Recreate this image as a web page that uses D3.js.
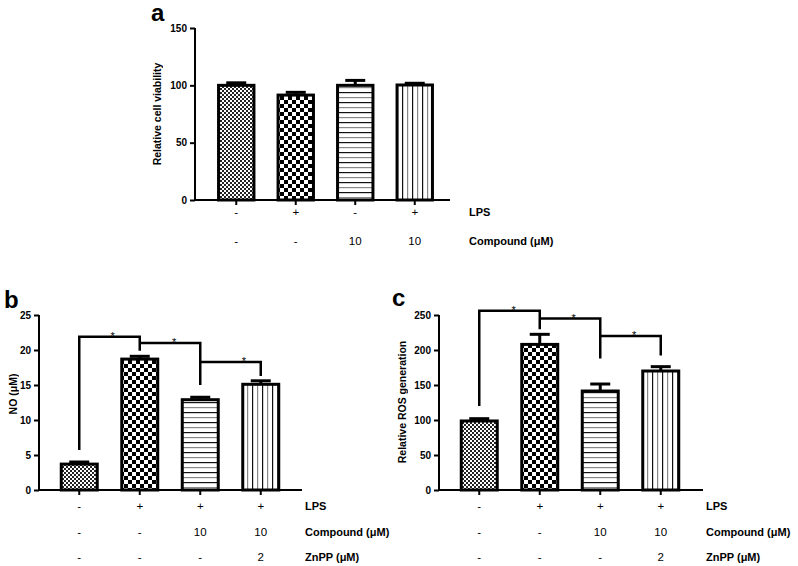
<!DOCTYPE html>
<html>
<head>
<meta charset="utf-8">
<script src="https://cdn.jsdelivr.net/npm/d3@7/dist/d3.min.js"></script>
<style>
  html, body { margin: 0; padding: 0; background: #fff; }
  svg { display: block; }
  text { font-family: "Liberation Sans", Arial, Helvetica, sans-serif; fill: #000; }
  .txt { opacity: 0.999; }
</style>
</head>
<body>
<svg id="chart" width="798" height="566"></svg>
<script>
// ---------------- DATA ----------------
const groups = ["G1", "G2", "G3", "G4"];

// Panel a: relative cell viability
const viabilityMeans = [100, 91.5, 100, 100.3];
const viabilityErr   = [2.2, 2.4, 4.3, 1.5];
const viabilityTicks = [0, 50, 100, 150];
const aRowNames  = ["LPS", "Compound (\u03bcM)"];
const aRowValues = [["-", "+", "-", "+"], ["-", "-", "10", "10"]];

// Panel b: NO
const noMeans = [3.7, 18.7, 12.9, 15.1];
const noErr   = [0.3, 0.4, 0.35, 0.5];
const noTicks = [0, 5, 10, 15, 20, 25];
// brackets: [fromGroup, toGroup, leftLegBottom, top, rightLegBottom, starFraction]
const noBrackets = [
  [0, 1, 5.7, 21.9, 19.9, 0.55],
  [1, 2, 21.0, 21.0, 15.0, 0.57],
  [2, 3, 18.3, 18.3, 16.3, 0.72]
];

// Panel c: ROS
const rosMeans = [98.6, 208, 141.4, 170];
const rosErr   = [3.3, 14.4, 10, 6.2];
const rosTicks = [0, 50, 100, 150, 200, 250];
const rosBrackets = [
  [0, 1, 120, 256, 229.5, 0.57],
  [1, 2, 245, 245, 188, 0.56],
  [2, 3, 220, 220, 192, 0.56]
];

const bcRowNames  = ["LPS", "Compound (\u03bcM)", "ZnPP (\u03bcM)"];
const bcRowValues = [["-", "+", "+", "+"], ["-", "-", "10", "10"], ["-", "-", "-", "2"]];

// ---------------- DRAW ----------------
const svg = d3.select("#chart");
const defs = svg.append("defs");

function pat(id, w, h, draw) {
  const p = defs.append("pattern").attr("id", id)
    .attr("patternUnits", "userSpaceOnUse").attr("width", w).attr("height", h);
  p.append("rect").attr("width", w).attr("height", h).attr("fill", "#fff");
  draw(p);
}
pat("p0", 4, 4, p => {
  p.append("rect").attr("x", 0).attr("y", 0).attr("width", 2).attr("height", 2).attr("fill", "#222");
  p.append("rect").attr("x", 2).attr("y", 2).attr("width", 2).attr("height", 2).attr("fill", "#222");
});
pat("p1", 8, 8, p => {
  p.append("rect").attr("x", 0).attr("y", 0).attr("width", 4).attr("height", 4).attr("fill", "#000");
  p.append("rect").attr("x", 4).attr("y", 4).attr("width", 4).attr("height", 4).attr("fill", "#000");
});
pat("p2", 10, 10, p => {
  p.append("rect").attr("x", 0).attr("y", 2).attr("width", 10).attr("height", 1.2).attr("fill", "#111");
  p.append("rect").attr("x", 0).attr("y", 7).attr("width", 10).attr("height", 1.2).attr("fill", "#888");
});
pat("p3", 10, 10, p => {
  p.append("rect").attr("x", 2).attr("y", 0).attr("width", 1.2).attr("height", 10).attr("fill", "#111");
  p.append("rect").attr("x", 7).attr("y", 0).attr("width", 1.2).attr("height", 10).attr("fill", "#888");
});
const fills = ["url(#p0)", "url(#p1)", "url(#p2)", "url(#p3)"];

function panel(cfg) {
  const g = svg.append("g");
  const x = d3.scaleBand().domain(groups).range(cfg.xRange)
    .paddingInner(0.405).paddingOuter(0.2025);
  const y = d3.scaleLinear().domain([0, cfg.yMax]).range([cfg.y0, cfg.yTop]);
  const cx = i => x(groups[i]) + x.bandwidth() / 2;

  // error bars (upper only)
  g.selectAll(".err").data(cfg.means).join("line")
    .attr("x1", (d, i) => cx(i)).attr("x2", (d, i) => cx(i))
    .attr("y1", d => y(d)).attr("y2", (d, i) => y(d + cfg.err[i]))
    .attr("stroke", "#000").attr("stroke-width", 3);
  g.selectAll(".cap").data(cfg.means).join("line")
    .attr("x1", (d, i) => cx(i) - 10).attr("x2", (d, i) => cx(i) + 10)
    .attr("y1", (d, i) => y(d + cfg.err[i])).attr("y2", (d, i) => y(d + cfg.err[i]))
    .attr("stroke", "#000").attr("stroke-width", 3);

  // bars
  g.selectAll(".bar").data(cfg.means).join("rect")
    .attr("x", (d, i) => x(groups[i]))
    .attr("y", d => y(d))
    .attr("width", x.bandwidth())
    .attr("height", d => y(0) - y(d))
    .attr("fill", (d, i) => fills[i])
    .attr("stroke", "#000").attr("stroke-width", 3);

  // y axis
  const yAxis = g.append("g").attr("transform", `translate(${cfg.axisX},0)`)
    .call(d3.axisLeft(y).tickValues(cfg.ticks).tickSize(5).tickPadding(3));
  yAxis.select(".domain").attr("d", `M0,${cfg.y0}V${cfg.yTop}`).attr("stroke-width", 2);
  yAxis.selectAll(".tick line").attr("stroke-width", 2);
  yAxis.selectAll(".tick text").attr("font-size", 10).attr("font-weight", "bold")
    .attr("class", "txt")
    .style("font-family", '"Liberation Sans", Arial, sans-serif');

  // x axis
  const xAxis = g.append("g").attr("transform", `translate(0,${cfg.y0})`)
    .call(d3.axisBottom(x).tickSize(5).tickFormat(""));
  xAxis.select(".domain").attr("d", `M${cfg.axisX},0H${cfg.xEnd}`).attr("stroke-width", 2);
  xAxis.selectAll(".tick line").attr("stroke-width", 2);

  // y title
  g.append("text").attr("class", "txt")
    .attr("transform", `translate(${cfg.titleX},${cfg.titleY}) rotate(-90)`)
    .attr("text-anchor", "middle").attr("dominant-baseline", "middle")
    .attr("font-size", 10.5).attr("font-weight", "bold").text(cfg.title);

  // panel letter
  g.append("text").attr("class", "txt").attr("x", cfg.letterX).attr("y", cfg.letterY)
    .attr("font-size", 24).attr("font-weight", "bold").text(cfg.letter);

  // row labels
  cfg.rowValues.forEach((row, r) => {
    const yy = cfg.rowY[r];
    g.selectAll(null).data(row).join("text").attr("class", "txt")
      .attr("x", (d, i) => cx(i)).attr("y", yy)
      .attr("text-anchor", "middle").attr("dominant-baseline", "middle")
      .attr("font-size", 11.5).text(d => d);
    g.append("text").attr("class", "txt").attr("x", cfg.rowLabelX).attr("y", yy)
      .attr("dominant-baseline", "middle")
      .attr("font-size", 11).attr("font-weight", "bold").text(cfg.rowNames[r]);
  });

  // significance brackets
  (cfg.brackets || []).forEach(b => {
    const [i0, i1, lb, top, rb, sf] = b;
    const x0 = cx(i0), x1 = cx(i1);
    g.append("path")
      .attr("d", `M${x0},${y(lb)}V${y(top)}H${x1}V${y(rb)}`)
      .attr("fill", "none").attr("stroke", "#000").attr("stroke-width", 2.5);
    g.append("text").attr("class", "txt").attr("x", x0 + sf * (x1 - x0)).attr("y", y(top) + 3)
      .attr("text-anchor", "middle").attr("font-size", 11).text("*");
  });
}

panel({
  means: viabilityMeans, err: viabilityErr, ticks: viabilityTicks, yMax: 150,
  xRange: [206.5, 444.5], y0: 200, yTop: 28, axisX: 195, xEnd: 450,
  title: "Relative cell viability", titleX: 158, titleY: 114,
  letter: "a", letterX: 151, letterY: 21,
  rowNames: aRowNames, rowValues: aRowValues, rowY: [213, 242], rowLabelX: 469
});

panel({
  means: noMeans, err: noErr, ticks: noTicks, yMax: 25,
  xRange: [49, 291], y0: 490, yTop: 315, axisX: 39, xEnd: 302,
  title: "NO (\u03bcM)", titleX: 14, titleY: 394,
  letter: "b", letterX: 4, letterY: 308,
  rowNames: bcRowNames, rowValues: bcRowValues, rowY: [507, 533, 558], rowLabelX: 305,
  brackets: noBrackets
});

panel({
  means: rosMeans, err: rosErr, ticks: rosTicks, yMax: 250,
  xRange: [449, 691], y0: 490, yTop: 315, axisX: 439, xEnd: 703,
  title: "Relative ROS generation", titleX: 403, titleY: 402,
  letter: "c", letterX: 392, letterY: 306,
  rowNames: bcRowNames, rowValues: bcRowValues, rowY: [507, 533, 558], rowLabelX: 706,
  brackets: rosBrackets
});
</script>
</body>
</html>
